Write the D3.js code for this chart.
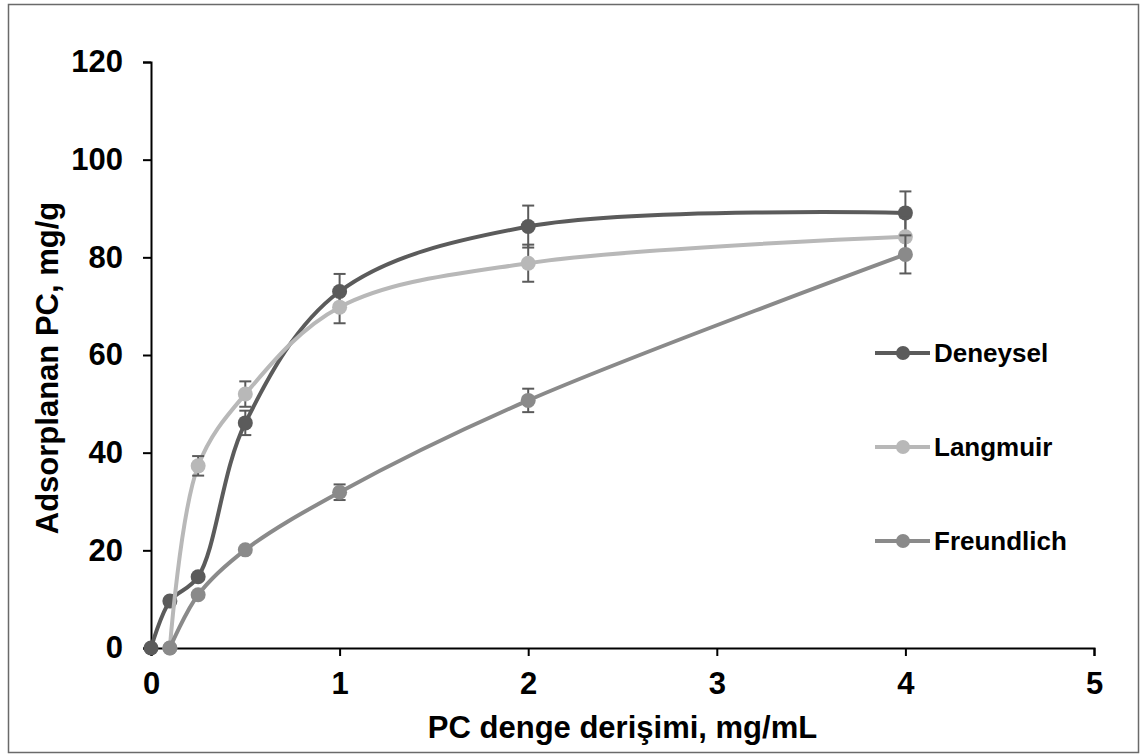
<!DOCTYPE html>
<html>
<head>
<meta charset="utf-8">
<script src="https://cdn.jsdelivr.net/npm/d3@7"></script>
<style>
    body { margin: 0; background: #fff; }
    text { font-family: "Liberation Sans", Arial, sans-serif; font-weight: bold; fill: #000; }
</style>
</head>
<body>
<div id="chart"></div>
<script>
let seriesNames = ["Deneysel", "Langmuir", "Freundlich"]
let seriesColors = ["#5b5b5b", "#b8b8b8", "#8a8a8a"]

let deneyselX = [0, 0.1, 0.25, 0.5, 1, 2, 4]
let deneyselY = [0, 9.6, 14.6, 46.1, 73.0, 86.3, 89.1]
let deneyselErr = [0, 0, 0, 2.5, 3.6, 4.3, 4.4]

let langmuirX = [0.1, 0.25, 0.5, 1, 2, 4]
let langmuirY = [0, 37.3, 52.0, 69.8, 78.8, 84.2]
let langmuirErr = [0, 2.0, 2.6, 3.3, 3.8, 4.0]

let freundlichX = [0.1, 0.25, 0.5, 1, 2, 4]
let freundlichY = [0, 10.9, 20.1, 31.9, 50.7, 80.6]
let freundlichErr = [0, 0, 0, 1.6, 2.4, 3.9]

let xTicks = [0, 1, 2, 3, 4, 5]
let yTicks = [0, 20, 40, 60, 80, 100, 120]
let xTitle = "PC denge derişimi, mg/mL"
let yTitle = "Adsorplanan PC, mg/g"

function buildSeries() {
    let xs = [deneyselX, langmuirX, freundlichX]
    let ys = [deneyselY, langmuirY, freundlichY]
    let errs = [deneyselErr, langmuirErr, freundlichErr]
    let series = []
    for (let i = 0; i < seriesNames.length; i++) {
        let points = []
        for (let j = 0; j < xs[i].length; j++) {
            points.push({ x: xs[i][j], y: ys[i][j], err: errs[i][j] })
        }
        series.push({ name: seriesNames[i], color: seriesColors[i], points: points })
    }
    return series
}

function displayChart(series) {
    let width = 1141,
        height = 754
    let svg = d3.select("#chart").append("svg")
        .attr("width", width)
        .attr("height", height)

    // outer frame
    svg.append("rect")
        .attr("x", 8.5)
        .attr("y", 4.5)
        .attr("width", 1130)
        .attr("height", 748)
        .attr("fill", "none")
        .attr("stroke", "#6a6a6a")
        .attr("stroke-width", 1.5)

    let xScale = d3.scaleLinear().domain([0, 5]).range([151, 1094])
    let yScale = d3.scaleLinear().domain([0, 120]).range([648, 62])

    let xAxis = svg.append("g")
        .attr("transform", "translate(0," + yScale(0) + ")")
        .call(d3.axisBottom(xScale).tickValues(xTicks).tickSize(8).tickPadding(16).tickFormat(d3.format("d")))
    let yAxis = svg.append("g")
        .attr("transform", "translate(" + xScale(0) + ",0)")
        .call(d3.axisLeft(yScale).tickValues(yTicks).tickSize(8).tickPadding(20).tickFormat(d3.format("d")))

    for (let ax of [xAxis, yAxis]) {
        ax.select(".domain").attr("stroke", "#000").attr("stroke-width", 2)
        ax.selectAll(".tick line").attr("stroke", "#000").attr("stroke-width", 2)
        ax.selectAll(".tick text").attr("font-size", 31).attr("font-family", null)
    }

    svg.append("text")
        .attr("x", (xScale(0) + xScale(5)) / 2)
        .attr("y", 738)
        .attr("text-anchor", "middle")
        .attr("font-size", 31)
        .text(xTitle)

    svg.append("text")
        .attr("transform", "translate(58," + 368 + ") rotate(-90)")
        .attr("text-anchor", "middle")
        .attr("font-size", 31)
        .text(yTitle)

    let line = d3.line()
        .x(function(d) { return xScale(d.x) })
        .y(function(d) { return yScale(d.y) })
        .curve(d3.curveCatmullRom.alpha(0.5))

    series.forEach(function(s) {
        let g = svg.append("g")
        g.append("path")
            .attr("d", line(s.points))
            .attr("fill", "none")
            .attr("stroke", s.color)
            .attr("stroke-width", 4)

        let withErr = s.points.filter(function(d) { return d.err > 0 })
        g.selectAll(".err")
            .data(withErr)
            .enter()
            .append("line")
            .attr("x1", function(d) { return xScale(d.x) })
            .attr("x2", function(d) { return xScale(d.x) })
            .attr("y1", function(d) { return yScale(d.y - d.err) })
            .attr("y2", function(d) { return yScale(d.y + d.err) })
            .attr("stroke", "#5b5b5b")
            .attr("stroke-width", 2)
        g.selectAll(".capTop")
            .data(withErr)
            .enter()
            .append("line")
            .attr("x1", function(d) { return xScale(d.x) - 6 })
            .attr("x2", function(d) { return xScale(d.x) + 6 })
            .attr("y1", function(d) { return yScale(d.y + d.err) })
            .attr("y2", function(d) { return yScale(d.y + d.err) })
            .attr("stroke", "#5b5b5b")
            .attr("stroke-width", 2)
        g.selectAll(".capBottom")
            .data(withErr)
            .enter()
            .append("line")
            .attr("x1", function(d) { return xScale(d.x) - 6 })
            .attr("x2", function(d) { return xScale(d.x) + 6 })
            .attr("y1", function(d) { return yScale(d.y - d.err) })
            .attr("y2", function(d) { return yScale(d.y - d.err) })
            .attr("stroke", "#5b5b5b")
            .attr("stroke-width", 2)

        g.selectAll(".dot")
            .data(s.points)
            .enter()
            .append("circle")
            .attr("cx", function(d) { return xScale(d.x) })
            .attr("cy", function(d) { return yScale(d.y) })
            .attr("r", 7.5)
            .attr("fill", s.color)
    })

    // legend
    let legendY = [353, 447, 541]
    series.forEach(function(s, i) {
        let lg = svg.append("g").attr("transform", "translate(0," + legendY[i] + ")")
        lg.append("line")
            .attr("x1", 875)
            .attr("x2", 930)
            .attr("stroke", s.color)
            .attr("stroke-width", 4)
        lg.append("circle")
            .attr("cx", 903)
            .attr("r", 7)
            .attr("fill", s.color)
        lg.append("text")
            .attr("x", 934)
            .attr("y", 9)
            .attr("font-size", 26)
            .text(s.name)
    })
}

displayChart(buildSeries())
</script>
</body>
</html>
